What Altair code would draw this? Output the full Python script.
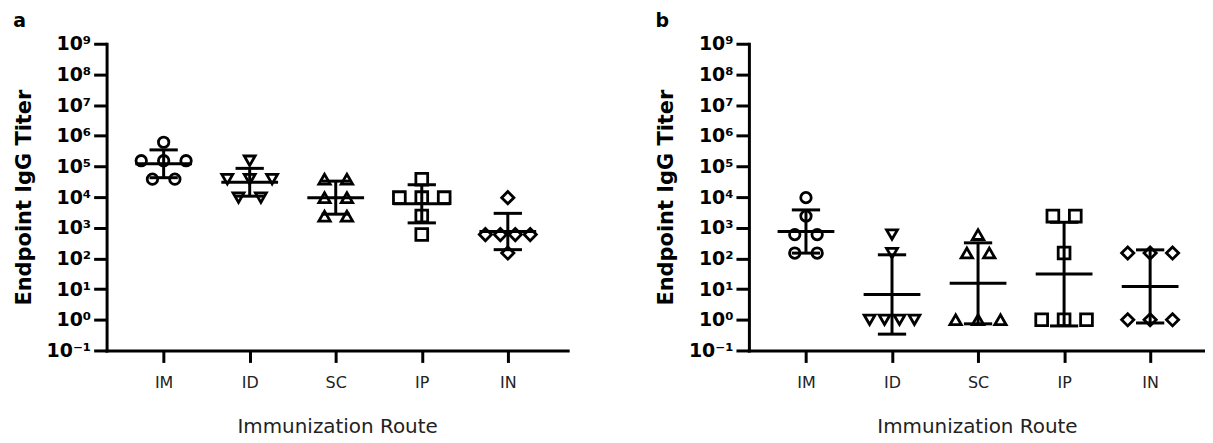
import json
import numpy as np
import pandas as pd
import altair as alt

# ---------------- data ----------------
routes = ["IM", "ID", "SC", "IP", "IN"]

# panel a: endpoint IgG titers per mouse
a_IM = [614400, 153600, 153600, 153600, 38400, 38400]
a_ID = [153600, 38400, 38400, 38400, 9600, 9600]
a_SC = [38400, 38400, 9600, 9600, 2400, 2400]
a_IP = [38400, 9600, 9600, 9600, 2400, 600]
a_IN = [9600, 600, 600, 600, 600, 150]

# panel b: endpoint IgG titers per mouse
b_IM = [9600, 2400, 600, 600, 150, 150]
b_ID = [600, 150, 1, 1, 1, 1]
b_SC = [600, 150, 150, 1, 1, 1]
b_IP = [2400, 2400, 150, 1, 1, 1]
b_IN = [150, 150, 150, 1, 1, 1]

y_ticks = [0.1, 1, 10, 1e2, 1e3, 1e4, 1e5, 1e6, 1e7, 1e8, 1e9]
y_tick_labels = ["10⁻¹", "10⁰", "10¹", "10²", "10³", "10⁴",
                 "10⁵", "10⁶", "10⁷", "10⁸", "10⁹"]
panel_letters = ["a", "b"]
x_title = "Immunization Route"
y_title = "Endpoint IgG Titer"

# ---------------- styling / layout constants ----------------
FONT = "DejaVu Sans"
shapes = ["circle", "triangle-down", "triangle-up", "square", "diamond"]
marker_sizes = [110, 150, 150, 135, 175]
STEP = 86.4          # px between categories
LEFT_PAD = 57.3      # px from y axis to first category
PLOT_H = 308
W_A, W_B = 463, 458
XMIN = -LEFT_PAD / STEP
MEAN_HALF = 28.5 / STEP
CAP_HALF = 14.2 / STEP


def swarm_offsets(values):
    """Spread identical values horizontally (pixel offsets)."""
    offs = [0.0] * len(values)
    groups = {}
    for i, v in enumerate(values):
        groups.setdefault(v, []).append(i)
    for v, idxs in groups.items():
        n = len(idxs)
        sp = 22.5 if n < 3 else 45.0 / (n - 1)
        for k, i in enumerate(idxs):
            offs[i] = (k - (n - 1) / 2) * sp
    return offs


def build(series):
    rows, summ = [], []
    for idx, (route, vals) in enumerate(zip(routes, series)):
        for v, o in zip(vals, swarm_offsets(vals)):
            rows.append({"route": route, "titer": v, "xpos": idx + o / STEP})
        lg = np.log10(np.array(vals, dtype=float))
        m, s = lg.mean(), lg.std(ddof=1)
        summ.append({"route": route, "gm": 10 ** m, "lo": 10 ** (m - s),
                     "hi": 10 ** (m + s),
                     "m1": idx - MEAN_HALF, "m2": idx + MEAN_HALF,
                     "c1": idx - CAP_HALF, "c2": idx + CAP_HALF,
                     "xc": idx})
    return pd.DataFrame(rows), pd.DataFrame(summ)


x_label_expr = f"{json.dumps(routes)}[round(datum.value)]"
y_label_expr = (f"{json.dumps(y_tick_labels, ensure_ascii=False)}"
                "[round(log(datum.value)/LN10)+1]")


def panel(series, letter, width):
    pts, summ = build(series)
    xmax = XMIN + width / STEP
    xs = alt.Scale(domain=[XMIN, xmax], nice=False, zero=False)
    ys = alt.Scale(type="log", domain=[0.1, 1e9], nice=False)
    xaxis = alt.Axis(values=list(range(len(routes))), labelExpr=x_label_expr,
                     title=x_title, grid=False, domainWidth=3,
                     domainColor="black", domainCap="square", tickWidth=3,
                     tickColor="black", tickSize=12, labelFont=FONT,
                     labelFontSize=16, labelColor="#222", labelPadding=12,
                     labelFlush=False, labelOverlap=False, titleFont=FONT,
                     titleFontSize=20, titleFontWeight="normal",
                     titleColor="#222", titlePadding=26)
    yaxis = alt.Axis(values=y_ticks, labelExpr=y_label_expr, title=y_title,
                     grid=False, domainWidth=3, domainColor="black",
                     domainCap="square", tickWidth=3, tickColor="black",
                     tickSize=13, labelFont=FONT, labelFontSize=19,
                     labelFontWeight="bold", labelColor="black",
                     labelPadding=3, labelFlush=False, labelOverlap=False,
                     titleFont=FONT, titleFontSize=21, titleFontWeight="bold",
                     titleColor="black", titlePadding=12)
    points = alt.Chart(pts).mark_point(filled=False, strokeWidth=2.8,
                                       color="black", opacity=1).encode(
        x=alt.X("xpos:Q", scale=xs, axis=xaxis),
        y=alt.Y("titer:Q", scale=ys, axis=yaxis),
        shape=alt.Shape("route:N", scale=alt.Scale(domain=routes, range=shapes),
                        legend=None),
        size=alt.Size("route:O", scale=alt.Scale(domain=routes,
                                                 range=marker_sizes),
                      legend=None),
    )
    sb = alt.Chart(summ)
    mean_rule = sb.mark_rule(strokeWidth=3, color="black").encode(
        x=alt.X("m1:Q", scale=xs), x2="m2:Q", y=alt.Y("gm:Q", scale=ys))
    vline = sb.mark_rule(strokeWidth=3, color="black").encode(
        x=alt.X("xc:Q", scale=xs), y=alt.Y("lo:Q", scale=ys), y2="hi:Q")
    cap_hi = sb.mark_rule(strokeWidth=3, color="black").encode(
        x=alt.X("c1:Q", scale=xs), x2="c2:Q", y=alt.Y("hi:Q", scale=ys))
    cap_lo = sb.mark_rule(strokeWidth=3, color="black").encode(
        x=alt.X("c1:Q", scale=xs), x2="c2:Q", y=alt.Y("lo:Q", scale=ys))
    return alt.layer(points, mean_rule, vline, cap_hi, cap_lo).properties(
        width=width, height=PLOT_H,
        title=alt.TitleParams(letter, anchor="start", frame="bounds",
                              font=FONT, fontSize=19, fontWeight="bold",
                              color="black", offset=4))


pa = panel([a_IM, a_ID, a_SC, a_IP, a_IN], panel_letters[0], W_A)
pb = panel([b_IM, b_ID, b_SC, b_IP, b_IN], panel_letters[1], W_B)

chart = alt.hconcat(pa, pb, spacing=88).properties(
    padding={"left": 5, "top": 3, "right": 0, "bottom": 0}
).configure_view(stroke=None)

chart.save("out.html", embed_options={"renderer": "svg", "actions": False})
